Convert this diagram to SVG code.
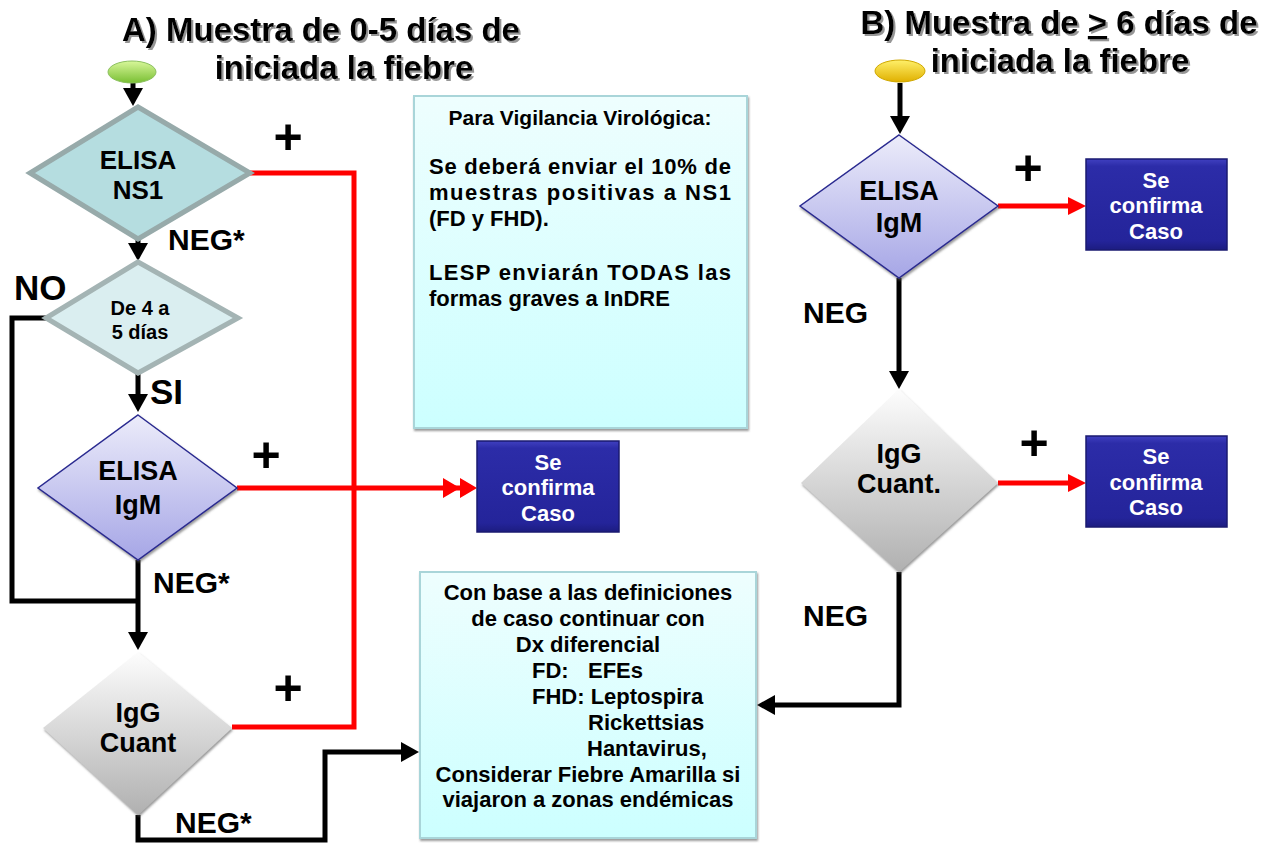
<svg xmlns="http://www.w3.org/2000/svg" width="1270" height="845" viewBox="0 0 1270 845">
<style>
text{font-family:"Liberation Sans",Arial,sans-serif;font-weight:bold;fill:#000}
.title{font-size:33px}
.lbl{font-size:30px}
.big{font-size:35px}
.plus{font-size:50px;text-anchor:middle}
.dt{font-size:27px;text-anchor:middle}
.ct{font-size:22px;text-anchor:middle;fill:#fff}
.bx{font-size:22px}
.mid{text-anchor:middle}
.blk{fill:none;stroke:#000;stroke-width:5;stroke-linejoin:miter}
.red{fill:none;stroke:#ff0000;stroke-width:5}
.info{stroke:#a9d5d9;stroke-width:2}
.conf{fill:url(#gBlue);stroke:#1a1a70;stroke-width:1.5}
</style>
<defs>
<linearGradient id="gGreen" x1="0" y1="0" x2="0" y2="1"><stop offset="0" stop-color="#d8f79a"/><stop offset="1" stop-color="#79bf33"/></linearGradient>
<linearGradient id="gYellow" x1="0" y1="0" x2="0" y2="1"><stop offset="0" stop-color="#fff06a"/><stop offset="1" stop-color="#e0b000"/></linearGradient>
<linearGradient id="gLav" x1="0" y1="0" x2="0" y2="1"><stop offset="0" stop-color="#ececfa"/><stop offset="1" stop-color="#a6a6e6"/></linearGradient>
<linearGradient id="gGray" x1="0" y1="0" x2="0" y2="1"><stop offset="0" stop-color="#fdfdfd"/><stop offset="1" stop-color="#b0b0b0"/></linearGradient>
<linearGradient id="gCyan" x1="0" y1="0" x2="0" y2="1"><stop offset="0" stop-color="#eefefe"/><stop offset="1" stop-color="#ccffff"/></linearGradient>
<linearGradient id="gBlue" x1="0" y1="0" x2="0" y2="1"><stop offset="0" stop-color="#4040c0"/><stop offset="0.08" stop-color="#2c2ca8"/><stop offset="0.9" stop-color="#24249a"/><stop offset="1" stop-color="#1c1c80"/></linearGradient>
<filter id="tsh" x="-5%" y="-20%" width="110%" height="150%"><feDropShadow dx="2" dy="2" stdDeviation="0.6" flood-color="#8a8a8a" flood-opacity="0.9"/></filter>
<filter id="dsh" x="-10%" y="-10%" width="120%" height="125%"><feDropShadow dx="1" dy="2" stdDeviation="0.8" flood-color="#555" flood-opacity="0.6"/></filter>
<marker id="ab" markerUnits="userSpaceOnUse" viewBox="0 0 18 20" refX="8" refY="10" markerWidth="18" markerHeight="20" orient="auto"><path d="M0,0 L18,10 L0,20 z" fill="#000"/></marker>
<marker id="ar" markerUnits="userSpaceOnUse" viewBox="0 0 18 18" refX="8" refY="9" markerWidth="18" markerHeight="18" orient="auto"><path d="M0,0 L18,9 L0,18 z" fill="#ff0000"/></marker>
<marker id="ar2" markerUnits="userSpaceOnUse" viewBox="0 0 34 20" refX="24" refY="10" markerWidth="34" markerHeight="20" orient="auto"><path d="M0,0 L17,10 L0,20 z M17,0 L34,10 L17,20 z" fill="#ff0000"/></marker>
</defs>

<g id="titles" filter="url(#tsh)">
<text class="title mid" x="321" y="41">A) Muestra de 0-5 días de</text>
<text class="title mid" x="344" y="79">iniciada la fiebre</text>
<text class="title mid" x="1059" y="34">B) Muestra de <tspan text-decoration="underline">&gt;</tspan> 6 días de</text>
<text class="title mid" x="1060" y="72">iniciada la fiebre</text>
</g>

<g id="connectors">
<path class="blk" d="M133,83 V96" marker-end="url(#ab)"/>
<path class="blk" d="M138,240 V251" marker-end="url(#ab)"/>
<path class="blk" d="M138,372 V402" marker-end="url(#ab)"/>
<path class="blk" d="M46,318 H12 V601 H138"/>
<path class="blk" d="M138,560 V640" marker-end="url(#ab)"/>
<path class="blk" d="M138,815 V840 H325 V752 H409" marker-end="url(#ab)"/>
<path class="red" d="M250,173 H354 V727 H232"/>
<path class="red" d="M237,488 H467" marker-end="url(#ar2)"/>
<path class="blk" d="M900,83 V124" marker-end="url(#ab)"/>
<path class="blk" d="M899,278 V379" marker-end="url(#ab)"/>
<path class="blk" d="M899,572 V705 H767" marker-end="url(#ab)"/>
<path class="red" d="M998,206 H1076" marker-end="url(#ar)"/>
<path class="red" d="M998,483 H1076" marker-end="url(#ar)"/>
</g>

<g id="labels">
<text class="plus" x="288" y="154">+</text>
<text class="lbl" x="168" y="250">NEG*</text>
<text class="big" x="14" y="300">NO</text>
<text class="big" x="150" y="404">SI</text>
<text class="plus" x="266" y="472">+</text>
<text class="lbl" x="153" y="593">NEG*</text>
<text class="plus" x="288" y="705">+</text>
<text class="lbl" x="175" y="833">NEG*</text>
<text class="plus" x="1028" y="185">+</text>
<text class="lbl" x="803" y="323">NEG</text>
<text class="plus" x="1034" y="460">+</text>
<text class="lbl" x="803" y="626">NEG</text>
</g>

<g id="startA"><ellipse cx="132" cy="72" rx="24" ry="11" fill="url(#gGreen)" stroke="#8cc060" stroke-width="1"/></g>
<g id="startB"><ellipse cx="900" cy="71" rx="25" ry="11" fill="url(#gYellow)" stroke="#d0a800" stroke-width="1"/></g>

<g id="elisaNS1">
<polygon points="138,107 250,173 138,239 30,173" fill="#b5dde0" stroke="#97aaaa" stroke-width="5"/>
<text class="dt" style="font-size:26px" x="138" y="169">ELISA</text>
<text class="dt" style="font-size:26px" x="138" y="199">NS1</text>
</g>

<g id="de4a5">
<polygon points="138,262 238,318 138,373 46,318" fill="#daeef0" stroke="#a4b4b4" stroke-width="5"/>
<text class="mid" style="font-size:20px" x="140" y="315">De 4 a</text>
<text class="mid" style="font-size:20px" x="140" y="339">5 días</text>
</g>

<g id="elisaIgM_A">
<polygon points="138,415 237,488 138,560 38,488" fill="url(#gLav)" stroke="#2a2a90" stroke-width="1.5" filter="url(#dsh)"/>
<text class="dt" x="138" y="480">ELISA</text>
<text class="dt" x="138" y="514">IgM</text>
</g>

<g id="igg_A">
<polygon points="138,652 232,728 138,815 43,728" fill="url(#gGray)" filter="url(#dsh)"/>
<text class="dt" x="138" y="722">IgG</text>
<text class="dt" x="138" y="752">Cuant</text>
</g>

<g id="confA">
<rect class="conf" x="477" y="441" width="142" height="91"/>
<text class="ct" x="548" y="470">Se</text>
<text class="ct" x="548" y="495">confirma</text>
<text class="ct" x="548" y="521">Caso</text>
</g>

<g id="infoVig">
<rect class="info" x="414" y="96" width="333" height="332" fill="url(#gCyan)" filter="url(#dsh)"/>
<text class="bx mid" x="580" y="125" style="font-size:21px">Para Vigilancia Virológica:</text>
<text class="bx" x="429" y="174" textLength="302" lengthAdjust="spacing">Se deberá enviar el 10% de</text>
<text class="bx" x="429" y="200" textLength="302" lengthAdjust="spacing">muestras positivas a NS1</text>
<text class="bx" x="429" y="226">(FD y FHD).</text>
<text class="bx" x="429" y="280" textLength="302" lengthAdjust="spacing">LESP enviarán TODAS las</text>
<text class="bx" x="429" y="306">formas graves a InDRE</text>
</g>

<g id="infoDx">
<rect class="info" x="420" y="572" width="336" height="266" fill="url(#gCyan)" filter="url(#dsh)"/>
<text class="bx mid" x="588" y="600">Con base a las definiciones</text>
<text class="bx mid" x="588" y="626">de caso continuar con</text>
<text class="bx mid" x="588" y="652">Dx diferencial</text>
<text class="bx" x="532" y="678">FD:<tspan x="588">EFEs</tspan></text>
<text class="bx" x="532" y="704">FHD: Leptospira</text>
<text class="bx" x="588" y="730">Rickettsias</text>
<text class="bx" x="587" y="756">Hantavirus,</text>
<text class="bx mid" x="588" y="782">Considerar Fiebre Amarilla si</text>
<text class="bx mid" x="588" y="807">viajaron a zonas endémicas</text>
</g>

<g id="elisaIgM_B">
<polygon points="899,135 998,206 899,278 800,206" fill="url(#gLav)" stroke="#2a2a90" stroke-width="1.5" filter="url(#dsh)"/>
<text class="dt" x="899" y="200">ELISA</text>
<text class="dt" x="899" y="232">IgM</text>
</g>

<g id="confB1">
<rect class="conf" x="1086" y="159" width="141" height="91"/>
<text class="ct" x="1156" y="188">Se</text>
<text class="ct" x="1156" y="213">confirma</text>
<text class="ct" x="1156" y="239">Caso</text>
</g>

<g id="igg_B">
<polygon points="899,389 998,483 899,572 801,483" fill="url(#gGray)" filter="url(#dsh)"/>
<text class="dt" x="899" y="463">IgG</text>
<text class="dt" x="899" y="493">Cuant.</text>
</g>

<g id="confB2">
<rect class="conf" x="1086" y="436" width="141" height="91"/>
<text class="ct" x="1156" y="464">Se</text>
<text class="ct" x="1156" y="490">confirma</text>
<text class="ct" x="1156" y="515">Caso</text>
</g>
</svg>
